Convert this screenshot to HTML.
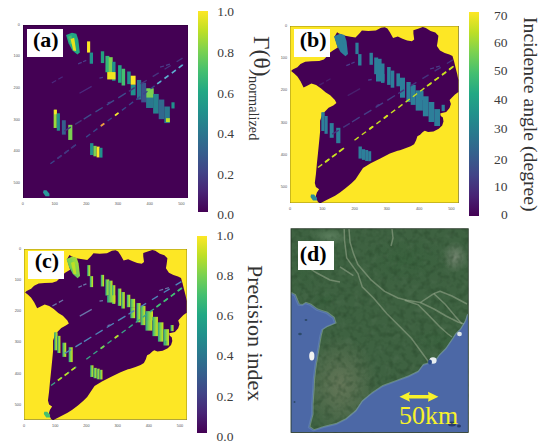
<!DOCTYPE html>
<html><head><meta charset="utf-8"><style>
html,body{margin:0;padding:0;background:#fff;width:550px;height:448px;overflow:hidden;position:relative}
div{position:absolute;white-space:nowrap}
.tk{font-family:"Liberation Sans",sans-serif;font-size:3.8px;color:#555;line-height:6px}
.cl{font-family:"Liberation Serif",serif;font-size:13.5px;color:#3c3c3c;line-height:1}
.bx{background:#fff}
.lb{font-family:"Liberation Serif",serif;font-weight:bold;font-size:22px;color:#000;line-height:1}
.vl{font-family:"Liberation Serif",serif;color:#333;writing-mode:vertical-rl;line-height:1}
</style></head><body>

<svg style="position:absolute;left:22.9px;top:24.8px" width="165.2" height="173.6" viewBox="290.0 26.0 168.7 177.0" preserveAspectRatio="none">
<rect x="290.0" y="26.0" width="168.7" height="177.0" fill="#440154"/>
<polygon points="334.0,36.3 340.0,33.8 344.5,35.0 346.5,41.0 348.0,54.0 345.5,56.2 340.5,52.0 336.5,44.5" fill="#22a884"/>
<polygon points="336.0,38.0 339.5,36.5 340.5,45.0 338.5,46.0" fill="#44bf70"/>
<polygon points="338.6,40.3 342.3,39.0 344.3,52.5 341.3,52.0" fill="#e6e41c"/>
<rect x="355.4" y="42.7" width="3.2" height="11.4" fill="#fde725"/>
<rect x="358.1" y="54.1" width="3.4" height="11.4" fill="#21918c"/>
<rect x="369.5" y="52.8" width="3.4" height="12.0" fill="#22a07f"/>
<rect x="374.2" y="57.5" width="4.0" height="16.7" fill="#35b779"/>
<rect x="377.5" y="58.8" width="4.1" height="20.8" fill="#7ad151"/>
<rect x="381" y="63.5" width="3.5" height="19.4" fill="#21918c"/>
<rect x="376" y="74" width="8.5" height="7.5" fill="#f0e41f"/>
<rect x="387.1" y="67" width="3.6" height="17.9" fill="#22a884"/>
<rect x="390.7" y="70.6" width="3.6" height="17.1" fill="#44bf70"/>
<rect x="396.4" y="73.4" width="3.6" height="12.9" fill="#21918c"/>
<rect x="400" y="77.7" width="5.0" height="9.3" fill="#fde725"/>
<rect x="400" y="87" width="5.0" height="10.7" fill="#21918c"/>
<rect x="406.4" y="82" width="4.3" height="20.0" fill="#2a788e"/>
<rect x="410.7" y="84.9" width="5.0" height="20.0" fill="#3b528b"/>
<rect x="415.7" y="90.6" width="7.2" height="20.0" fill="#2a788e"/>
<rect x="416" y="90.6" width="7.5" height="9.4" fill="#7ad151"/>
<rect x="422.9" y="96.3" width="5.7" height="20.0" fill="#26828e"/>
<rect x="428.6" y="102" width="5.7" height="20.0" fill="#31688e"/>
<rect x="434.3" y="109.1" width="5.7" height="16.9" fill="#2a788e"/>
<rect x="436" y="121" width="4.0" height="4.0" fill="#bddf26"/>
<rect x="441.6" y="104.8" width="3.2" height="6.3" fill="#21918c"/>
<rect x="321.3" y="112.4" width="3.2" height="18.6" fill="#9ad93c"/>
<rect x="321.8" y="112.4" width="2.7" height="4.6" fill="#fde725"/>
<rect x="324.5" y="116" width="3.2" height="17.8" fill="#21918c"/>
<rect x="329.7" y="123.1" width="4.0" height="14.7" fill="#355f8d"/>
<rect x="336.2" y="127.8" width="4.2" height="15.4" fill="#7ad151"/>
<rect x="358.5" y="146.5" width="3.4" height="12.1" fill="#21918c"/>
<rect x="361.9" y="149.2" width="3.3" height="10.7" fill="#7ad151"/>
<rect x="365.2" y="150" width="3.0" height="11.0" fill="#fde725"/>
<rect x="368.2" y="151.2" width="3.0" height="10.0" fill="#21918c"/>
<polygon points="311.0,194.6 314.0,194.6 317.0,198.0 317.0,200.5 313.0,200.5 310.5,197.0" fill="#2a9a9a"/>
<line x1="318.0" y1="167.5" x2="322.2" y2="164.4" stroke="#39468a" stroke-width="1.4"/>
<line x1="325.3" y1="162.1" x2="329.5" y2="158.9" stroke="#39468a" stroke-width="1.4"/>
<line x1="332.6" y1="156.6" x2="336.8" y2="153.5" stroke="#39468a" stroke-width="1.4"/>
<line x1="339.9" y1="151.2" x2="344.1" y2="148.0" stroke="#39468a" stroke-width="1.4"/>
<line x1="354.5" y1="140.3" x2="358.7" y2="137.1" stroke="#39468a" stroke-width="1.4"/>
<line x1="361.8" y1="134.8" x2="366.0" y2="131.7" stroke="#39468a" stroke-width="1.4"/>
<line x1="369.1" y1="129.4" x2="373.3" y2="126.2" stroke="#39468a" stroke-width="1.4"/>
<line x1="376.4" y1="123.9" x2="380.6" y2="120.8" stroke="#39468a" stroke-width="1.4"/>
<line x1="383.7" y1="118.5" x2="387.9" y2="115.3" stroke="#39468a" stroke-width="1.4"/>
<line x1="391.0" y1="113.0" x2="395.2" y2="109.9" stroke="#39468a" stroke-width="1.4"/>
<line x1="398.3" y1="107.6" x2="402.5" y2="104.4" stroke="#39468a" stroke-width="1.4"/>
<line x1="405.6" y1="102.1" x2="409.8" y2="99.0" stroke="#39468a" stroke-width="1.4"/>
<line x1="412.9" y1="96.7" x2="417.1" y2="93.5" stroke="#39468a" stroke-width="1.4"/>
<line x1="420.2" y1="91.2" x2="424.4" y2="88.1" stroke="#39468a" stroke-width="1.4"/>
<line x1="427.5" y1="85.8" x2="431.7" y2="82.6" stroke="#39468a" stroke-width="1.4"/>
<line x1="434.8" y1="80.3" x2="439.0" y2="77.2" stroke="#39468a" stroke-width="1.4"/>
<line x1="442.1" y1="74.9" x2="446.3" y2="71.7" stroke="#39468a" stroke-width="1.4"/>
<line x1="449.4" y1="69.4" x2="453.6" y2="66.3" stroke="#39468a" stroke-width="1.4"/>
<line x1="369.5" y1="129.1" x2="373.0" y2="126.5" stroke="#f39b3a" stroke-width="1.9"/>
<line x1="384.0" y1="118.2" x2="387.5" y2="115.6" stroke="#fde725" stroke-width="1.9"/>
<line x1="427.0" y1="86.1" x2="431.0" y2="83.2" stroke="#5fb0d0" stroke-width="1.7"/>
<line x1="434.5" y1="80.5" x2="438.5" y2="77.6" stroke="#5fb0d0" stroke-width="1.7"/>
<line x1="442.0" y1="75.0" x2="446.0" y2="72.0" stroke="#5fb0d0" stroke-width="1.7"/>
<line x1="449.0" y1="69.7" x2="453.0" y2="66.7" stroke="#5fb0d0" stroke-width="1.7"/>
<line x1="325.0" y1="162.3" x2="329.0" y2="159.3" stroke="#46337e" stroke-width="1.7"/>
<line x1="332.0" y1="157.1" x2="336.0" y2="154.1" stroke="#46337e" stroke-width="1.7"/>
<line x1="339.0" y1="151.8" x2="343.0" y2="148.8" stroke="#46337e" stroke-width="1.7"/>
<line x1="352.0" y1="122.0" x2="359.7" y2="117.2" stroke="#3e4a8a" stroke-width="1.4"/>
<line x1="364.0" y1="114.6" x2="371.4" y2="110.1" stroke="#3e4a8a" stroke-width="1.4"/>
<line x1="375.6" y1="107.4" x2="383.0" y2="102.9" stroke="#3e4a8a" stroke-width="1.4"/>
<line x1="387.3" y1="100.3" x2="395.0" y2="95.5" stroke="#3e4a8a" stroke-width="1.4"/>
<line x1="332.2" y1="134.2" x2="338.8" y2="130.1" stroke="#46337e" stroke-width="1.4"/>
<line x1="343.2" y1="127.4" x2="349.8" y2="123.3" stroke="#46337e" stroke-width="1.4"/>
<line x1="398.1" y1="93.6" x2="404.1" y2="89.9" stroke="#46337e" stroke-width="1.4"/>
<line x1="410.2" y1="86.1" x2="416.4" y2="82.3" stroke="#46337e" stroke-width="1.4"/>
<line x1="422.4" y1="78.6" x2="428.6" y2="74.8" stroke="#46337e" stroke-width="1.4"/>
<line x1="434.6" y1="71.1" x2="440.8" y2="67.3" stroke="#46337e" stroke-width="1.4"/>
<line x1="446.9" y1="63.5" x2="452.9" y2="59.8" stroke="#46337e" stroke-width="1.4"/>
<line x1="319.4" y1="85.1" x2="323.8" y2="82.6" stroke="#4a2a7e" stroke-width="1.3"/>
<line x1="326.1" y1="81.3" x2="330.5" y2="78.8" stroke="#4a2a7e" stroke-width="1.3"/>
<line x1="347.7" y1="95.6" x2="360.1" y2="88.6" stroke="#4a2a7e" stroke-width="1.3"/>
<line x1="346.3" y1="65.7" x2="350.0" y2="64.1" stroke="#4a3d8a" stroke-width="1.3"/>
<line x1="351.3" y1="63.5" x2="354.6" y2="62.1" stroke="#4a3d8a" stroke-width="1.3"/>
<line x1="430.0" y1="69.0" x2="434.0" y2="67.8" stroke="#4a3d8a" stroke-width="1.3"/>
<line x1="436.0" y1="67.2" x2="440.0" y2="66.0" stroke="#4a3d8a" stroke-width="1.3"/>
<line x1="368.1" y1="80.1" x2="371.7" y2="79.5" stroke="#4a3d8a" stroke-width="1.3"/>
<line x1="376.5" y1="105.5" x2="379.5" y2="104.5" stroke="#4a3d8a" stroke-width="1.3"/>
<rect x="290.0" y="26.0" width="168.7" height="177.0" fill="none" stroke="#000" stroke-opacity="0.5" stroke-width="0.8"/>
</svg>
<div class="tk" style="left:14.9px;top:201.4px;width:16px;text-align:center">0</div>
<div class="tk" style="left:46.6px;top:201.4px;width:16px;text-align:center">100</div>
<div class="tk" style="left:78.3px;top:201.4px;width:16px;text-align:center">200</div>
<div class="tk" style="left:110.0px;top:201.4px;width:16px;text-align:center">300</div>
<div class="tk" style="left:141.7px;top:201.4px;width:16px;text-align:center">400</div>
<div class="tk" style="left:173.4px;top:201.4px;width:16px;text-align:center">500</div>
<div class="tk" style="left:3.9px;top:21.8px;width:16px;text-align:right">0</div>
<div class="tk" style="left:3.9px;top:53.4px;width:16px;text-align:right">100</div>
<div class="tk" style="left:3.9px;top:84.9px;width:16px;text-align:right">200</div>
<div class="tk" style="left:3.9px;top:116.5px;width:16px;text-align:right">300</div>
<div class="tk" style="left:3.9px;top:148.0px;width:16px;text-align:right">400</div>
<div class="tk" style="left:3.9px;top:179.6px;width:16px;text-align:right">500</div>
<div class="bx" style="left:26.7px;top:28.9px;width:36.2px;height:28.6px"></div><div class="lb" style="left:33.0px;top:28.8px">(a)</div>
<div style="left:198.2px;top:11px;width:9.8px;height:201.4px;background:linear-gradient(to bottom,#fde725 0%,#bddf26 10%,#7ad151 20%,#44bf70 30%,#22a884 40%,#21918c 50%,#2a788e 60%,#355f8d 70%,#414487 80%,#482475 90%,#440154 100%)"></div>
<div class="cl" style="left:217.2px;top:5.4px">1.0</div>
<div class="cl" style="left:217.2px;top:45.9px">0.8</div>
<div class="cl" style="left:217.2px;top:86.5px">0.6</div>
<div class="cl" style="left:217.2px;top:127.0px">0.4</div>
<div class="cl" style="left:217.2px;top:167.6px">0.2</div>
<div class="cl" style="left:217.2px;top:208.1px">0.0</div>
<div class="vl" style="left:249.0px;top:36.4px;font-size:23.5px">Γ(θ)</div>
<div class="vl" style="left:247.1px;top:76.0px;font-size:14.3px">normalized</div>
<svg style="position:absolute;left:290.0px;top:26.0px" width="168.7" height="177.0" viewBox="290.0 26.0 168.7 177.0" preserveAspectRatio="none">
<rect x="290.0" y="26.0" width="168.7" height="177.0" fill="#fde725"/>
<polygon points="334.5,36.7 337.1,32.3 339.0,33.5 344.1,35.5 350.5,36.7 355.5,37.4 359.4,33.5 361.9,30.4 368.3,31.0 375.9,30.4 381.0,27.8 384.8,27.2 387.4,28.5 389.9,32.3 393.1,38.0 397.8,36.5 402.5,38.8 407.2,40.4 411.9,41.2 414.2,39.6 413.4,33.4 413.4,30.2 418.1,28.7 422.8,27.1 425.9,27.9 430.6,31.0 435.3,32.6 438.4,35.7 437.7,41.2 436.9,45.9 440.0,50.6 444.7,52.9 449.4,54.5 452.5,56.0 454.1,61.5 455.6,67.8 457.2,74.0 458.4,80.0 458.4,92.0 455.0,94.5 452.0,97.5 449.6,100.0 450.9,104.0 449.6,108.0 446.2,112.0 442.9,112.7 440.2,113.4 440.8,116.0 442.9,117.4 443.5,121.4 442.2,125.4 438.8,128.8 433.5,131.5 428.1,132.1 424.8,130.8 422.8,132.1 420.1,134.8 417.4,136.2 416.1,140.2 414.1,144.2 410.7,146.2 405.4,148.2 400.0,150.2 397.6,150.7 389.9,153.6 380.3,158.4 370.7,163.2 363.0,168.0 359.2,173.7 355.4,179.5 351.5,183.3 345.8,188.1 340.0,192.5 335.1,195.7 326.6,200.0 320.1,203.4 318.0,202.1 316.5,199.0 315.9,195.7 316.9,192.5 319.1,189.3 315.9,187.1 314.8,182.9 315.9,174.3 316.9,163.6 318.0,152.9 319.1,142.1 320.1,131.4 320.1,120.7 322.3,114.3 325.5,110.9 328.6,107.8 333.3,105.4 336.4,103.1 334.9,100.0 330.2,95.3 325.5,92.2 320.8,88.3 316.1,85.1 311.4,83.6 306.7,85.9 303.6,87.5 300.5,81.2 297.4,76.5 294.2,73.4 291.1,71.1 292.7,69.5 297.4,67.2 300.5,64.1 305.2,61.7 311.4,61.2 319.2,60.9 323.9,59.4 327.0,56.2 330.1,52.6 332.6,50.7 337.7,47.5 336.5,43.0" fill="#440154"/>
<polygon points="334.0,36.3 340.0,33.8 344.5,35.0 346.5,41.0 348.0,54.0 345.5,56.2 340.5,52.0 336.5,44.5" fill="#2d7f9a"/>
<polygon points="336.0,38.0 339.5,36.5 340.5,45.0 338.5,46.0" fill="#2d7f9a"/>
<polygon points="338.6,40.3 342.3,39.0 344.3,52.5 341.3,52.0" fill="#2d7f9a"/>
<rect x="355.4" y="42.7" width="3.2" height="11.4" fill="#2d7f9a"/>
<rect x="358.1" y="54.1" width="3.4" height="11.4" fill="#2d7f9a"/>
<rect x="369.5" y="52.8" width="3.4" height="12.0" fill="#2d7f9a"/>
<rect x="374.2" y="57.5" width="4.0" height="16.7" fill="#2d7f9a"/>
<rect x="377.5" y="58.8" width="4.1" height="20.8" fill="#2d7f9a"/>
<rect x="381" y="63.5" width="3.5" height="19.4" fill="#2d7f9a"/>
<rect x="376" y="74" width="8.5" height="7.5" fill="#2d7f9a"/>
<rect x="387.1" y="67" width="3.6" height="17.9" fill="#2d7f9a"/>
<rect x="390.7" y="70.6" width="3.6" height="17.1" fill="#2d7f9a"/>
<rect x="396.4" y="73.4" width="3.6" height="12.9" fill="#2d7f9a"/>
<rect x="400" y="77.7" width="5.0" height="9.3" fill="#2d7f9a"/>
<rect x="400" y="87" width="5.0" height="10.7" fill="#2d7f9a"/>
<rect x="406.4" y="82" width="4.3" height="20.0" fill="#2d7f9a"/>
<rect x="410.7" y="84.9" width="5.0" height="20.0" fill="#2d7f9a"/>
<rect x="415.7" y="90.6" width="7.2" height="20.0" fill="#2d7f9a"/>
<rect x="416" y="90.6" width="7.5" height="9.4" fill="#2d7f9a"/>
<rect x="422.9" y="96.3" width="5.7" height="20.0" fill="#2d7f9a"/>
<rect x="428.6" y="102" width="5.7" height="20.0" fill="#2d7f9a"/>
<rect x="434.3" y="109.1" width="5.7" height="16.9" fill="#2d7f9a"/>
<rect x="436" y="121" width="4.0" height="4.0" fill="#2d7f9a"/>
<rect x="441.6" y="104.8" width="3.2" height="6.3" fill="#2d7f9a"/>
<rect x="321.3" y="112.4" width="3.2" height="18.6" fill="#2d7f9a"/>
<rect x="321.8" y="112.4" width="2.7" height="4.6" fill="#2d7f9a"/>
<rect x="324.5" y="116" width="3.2" height="17.8" fill="#2d7f9a"/>
<rect x="329.7" y="123.1" width="4.0" height="14.7" fill="#2d7f9a"/>
<rect x="336.2" y="127.8" width="4.2" height="15.4" fill="#2d7f9a"/>
<rect x="358.5" y="146.5" width="3.4" height="12.1" fill="#2d7f9a"/>
<rect x="361.9" y="149.2" width="3.3" height="10.7" fill="#2d7f9a"/>
<rect x="365.2" y="150" width="3.0" height="11.0" fill="#2d7f9a"/>
<rect x="368.2" y="151.2" width="3.0" height="10.0" fill="#2d7f9a"/>
<polygon points="311.0,194.6 314.0,194.6 317.0,198.0 317.0,200.5 313.0,200.5 310.5,197.0" fill="#2c8a9a"/>
<line x1="318.0" y1="167.5" x2="322.2" y2="164.4" stroke="#c9e021" stroke-width="1.4"/>
<line x1="325.3" y1="162.1" x2="329.5" y2="158.9" stroke="#c9e021" stroke-width="1.4"/>
<line x1="332.6" y1="156.6" x2="336.8" y2="153.5" stroke="#c9e021" stroke-width="1.4"/>
<line x1="339.9" y1="151.2" x2="344.1" y2="148.0" stroke="#c9e021" stroke-width="1.4"/>
<line x1="354.5" y1="140.3" x2="358.7" y2="137.1" stroke="#c9e021" stroke-width="1.4"/>
<line x1="361.8" y1="134.8" x2="366.0" y2="131.7" stroke="#c9e021" stroke-width="1.4"/>
<line x1="369.1" y1="129.4" x2="373.3" y2="126.2" stroke="#c9e021" stroke-width="1.4"/>
<line x1="376.4" y1="123.9" x2="380.6" y2="120.8" stroke="#c9e021" stroke-width="1.4"/>
<line x1="383.7" y1="118.5" x2="387.9" y2="115.3" stroke="#c9e021" stroke-width="1.4"/>
<line x1="391.0" y1="113.0" x2="395.2" y2="109.9" stroke="#c9e021" stroke-width="1.4"/>
<line x1="398.3" y1="107.6" x2="402.5" y2="104.4" stroke="#c9e021" stroke-width="1.4"/>
<line x1="405.6" y1="102.1" x2="409.8" y2="99.0" stroke="#c9e021" stroke-width="1.4"/>
<line x1="412.9" y1="96.7" x2="417.1" y2="93.5" stroke="#c9e021" stroke-width="1.4"/>
<line x1="420.2" y1="91.2" x2="424.4" y2="88.1" stroke="#c9e021" stroke-width="1.4"/>
<line x1="427.5" y1="85.8" x2="431.7" y2="82.6" stroke="#c9e021" stroke-width="1.4"/>
<line x1="434.8" y1="80.3" x2="439.0" y2="77.2" stroke="#c9e021" stroke-width="1.4"/>
<line x1="442.1" y1="74.9" x2="446.3" y2="71.7" stroke="#c9e021" stroke-width="1.4"/>
<line x1="449.4" y1="69.4" x2="453.6" y2="66.3" stroke="#c9e021" stroke-width="1.4"/>
<line x1="369.5" y1="129.1" x2="373.0" y2="126.5" stroke="#d5e21f" stroke-width="1.9"/>
<line x1="384.0" y1="118.2" x2="387.5" y2="115.6" stroke="#d5e21f" stroke-width="1.9"/>
<line x1="427.0" y1="86.1" x2="431.0" y2="83.2" stroke="#c9e021" stroke-width="1.7"/>
<line x1="434.5" y1="80.5" x2="438.5" y2="77.6" stroke="#c9e021" stroke-width="1.7"/>
<line x1="442.0" y1="75.0" x2="446.0" y2="72.0" stroke="#c9e021" stroke-width="1.7"/>
<line x1="449.0" y1="69.7" x2="453.0" y2="66.7" stroke="#c9e021" stroke-width="1.7"/>
<line x1="325.0" y1="162.3" x2="329.0" y2="159.3" stroke="#c9e021" stroke-width="1.7"/>
<line x1="332.0" y1="157.1" x2="336.0" y2="154.1" stroke="#c9e021" stroke-width="1.7"/>
<line x1="339.0" y1="151.8" x2="343.0" y2="148.8" stroke="#c9e021" stroke-width="1.7"/>
<line x1="352.0" y1="122.0" x2="359.7" y2="117.2" stroke="#463d86" stroke-width="1.4"/>
<line x1="364.0" y1="114.6" x2="371.4" y2="110.1" stroke="#463d86" stroke-width="1.4"/>
<line x1="375.6" y1="107.4" x2="383.0" y2="102.9" stroke="#463d86" stroke-width="1.4"/>
<line x1="387.3" y1="100.3" x2="395.0" y2="95.5" stroke="#463d86" stroke-width="1.4"/>
<line x1="332.2" y1="134.2" x2="338.8" y2="130.1" stroke="#46337e" stroke-width="1.4"/>
<line x1="343.2" y1="127.4" x2="349.8" y2="123.3" stroke="#46337e" stroke-width="1.4"/>
<line x1="398.1" y1="93.6" x2="404.1" y2="89.9" stroke="#46337e" stroke-width="1.4"/>
<line x1="410.2" y1="86.1" x2="416.4" y2="82.3" stroke="#46337e" stroke-width="1.4"/>
<line x1="422.4" y1="78.6" x2="428.6" y2="74.8" stroke="#46337e" stroke-width="1.4"/>
<line x1="434.6" y1="71.1" x2="440.8" y2="67.3" stroke="#46337e" stroke-width="1.4"/>
<line x1="446.9" y1="63.5" x2="452.9" y2="59.8" stroke="#46337e" stroke-width="1.4"/>
<line x1="319.4" y1="85.1" x2="323.8" y2="82.6" stroke="#48206e" stroke-width="1.3"/>
<line x1="326.1" y1="81.3" x2="330.5" y2="78.8" stroke="#48206e" stroke-width="1.3"/>
<line x1="347.7" y1="95.6" x2="360.1" y2="88.6" stroke="#48206e" stroke-width="1.3"/>
<line x1="346.3" y1="65.7" x2="350.0" y2="64.1" stroke="#4a3d8a" stroke-width="1.3"/>
<line x1="351.3" y1="63.5" x2="354.6" y2="62.1" stroke="#4a3d8a" stroke-width="1.3"/>
<line x1="430.0" y1="69.0" x2="434.0" y2="67.8" stroke="#4a3d8a" stroke-width="1.3"/>
<line x1="436.0" y1="67.2" x2="440.0" y2="66.0" stroke="#4a3d8a" stroke-width="1.3"/>
<line x1="368.1" y1="80.1" x2="371.7" y2="79.5" stroke="#4a3d8a" stroke-width="1.3"/>
<line x1="376.5" y1="105.5" x2="379.5" y2="104.5" stroke="#4a3d8a" stroke-width="1.3"/>
<rect x="290.0" y="26.0" width="168.7" height="177.0" fill="none" stroke="#000" stroke-opacity="0.5" stroke-width="0.8"/>
</svg>
<div class="tk" style="left:282.0px;top:206.0px;width:16px;text-align:center">0</div>
<div class="tk" style="left:314.3px;top:206.0px;width:16px;text-align:center">100</div>
<div class="tk" style="left:346.6px;top:206.0px;width:16px;text-align:center">200</div>
<div class="tk" style="left:378.8px;top:206.0px;width:16px;text-align:center">300</div>
<div class="tk" style="left:411.1px;top:206.0px;width:16px;text-align:center">400</div>
<div class="tk" style="left:443.4px;top:206.0px;width:16px;text-align:center">500</div>
<div class="tk" style="left:271.0px;top:23.0px;width:16px;text-align:right">0</div>
<div class="tk" style="left:271.0px;top:55.2px;width:16px;text-align:right">100</div>
<div class="tk" style="left:271.0px;top:87.4px;width:16px;text-align:right">200</div>
<div class="tk" style="left:271.0px;top:119.6px;width:16px;text-align:right">300</div>
<div class="tk" style="left:271.0px;top:151.8px;width:16px;text-align:right">400</div>
<div class="tk" style="left:271.0px;top:184.0px;width:16px;text-align:right">500</div>
<div class="bx" style="left:293.9px;top:29.3px;width:35.7px;height:28.1px"></div><div class="lb" style="left:299.8px;top:29.1px">(b)</div>
<div style="left:468.9px;top:12.4px;width:10.4px;height:204.1px;background:linear-gradient(to bottom,#fde725 0%,#bddf26 10%,#7ad151 20%,#44bf70 30%,#22a884 40%,#21918c 50%,#2a788e 60%,#355f8d 70%,#414487 80%,#482475 90%,#440154 100%)"></div>
<div class="cl" style="left:494.0px;top:8.6px">70</div>
<div class="cl" style="left:494.0px;top:35.6px">60</div>
<div class="cl" style="left:494.0px;top:64.1px">50</div>
<div class="cl" style="left:494.0px;top:93.1px">40</div>
<div class="cl" style="left:494.0px;top:122.1px">30</div>
<div class="cl" style="left:494.0px;top:152.6px">20</div>
<div class="cl" style="left:494.0px;top:180.4px">10</div>
<div class="cl" style="left:501.0px;top:208.1px">0</div>
<div class="vl" style="left:520.1px;top:16.7px;font-size:19.7px">Incidence angle (degree)</div>
<svg style="position:absolute;left:24.0px;top:249.2px" width="163.0" height="170.8" viewBox="290.0 26.0 168.7 177.0" preserveAspectRatio="none">
<defs><linearGradient id="gc" x1="0" y1="0" x2="1" y2="0"><stop offset="0" stop-color="#2a9d8a"/><stop offset="0.45" stop-color="#7ad151"/><stop offset="1" stop-color="#d4e21a"/></linearGradient><linearGradient id="gc2" x1="0" y1="1" x2="1" y2="0"><stop offset="0" stop-color="#21918c"/><stop offset="0.5" stop-color="#7ad151"/><stop offset="1" stop-color="#bddf26"/></linearGradient></defs>
<rect x="290.0" y="26.0" width="168.7" height="177.0" fill="#fde725"/>
<polygon points="334.5,36.7 337.1,32.3 339.0,33.5 344.1,35.5 350.5,36.7 355.5,37.4 359.4,33.5 361.9,30.4 368.3,31.0 375.9,30.4 381.0,27.8 384.8,27.2 387.4,28.5 389.9,32.3 393.1,38.0 397.8,36.5 402.5,38.8 407.2,40.4 411.9,41.2 414.2,39.6 413.4,33.4 413.4,30.2 418.1,28.7 422.8,27.1 425.9,27.9 430.6,31.0 435.3,32.6 438.4,35.7 437.7,41.2 436.9,45.9 440.0,50.6 444.7,52.9 449.4,54.5 452.5,56.0 454.1,61.5 455.6,67.8 457.2,74.0 458.4,80.0 458.4,92.0 455.0,94.5 452.0,97.5 449.6,100.0 450.9,104.0 449.6,108.0 446.2,112.0 442.9,112.7 440.2,113.4 440.8,116.0 442.9,117.4 443.5,121.4 442.2,125.4 438.8,128.8 433.5,131.5 428.1,132.1 424.8,130.8 422.8,132.1 420.1,134.8 417.4,136.2 416.1,140.2 414.1,144.2 410.7,146.2 405.4,148.2 400.0,150.2 397.6,150.7 389.9,153.6 380.3,158.4 370.7,163.2 363.0,168.0 359.2,173.7 355.4,179.5 351.5,183.3 345.8,188.1 340.0,192.5 335.1,195.7 326.6,200.0 320.1,203.4 318.0,202.1 316.5,199.0 315.9,195.7 316.9,192.5 319.1,189.3 315.9,187.1 314.8,182.9 315.9,174.3 316.9,163.6 318.0,152.9 319.1,142.1 320.1,131.4 320.1,120.7 322.3,114.3 325.5,110.9 328.6,107.8 333.3,105.4 336.4,103.1 334.9,100.0 330.2,95.3 325.5,92.2 320.8,88.3 316.1,85.1 311.4,83.6 306.7,85.9 303.6,87.5 300.5,81.2 297.4,76.5 294.2,73.4 291.1,71.1 292.7,69.5 297.4,67.2 300.5,64.1 305.2,61.7 311.4,61.2 319.2,60.9 323.9,59.4 327.0,56.2 330.1,52.6 332.6,50.7 337.7,47.5 336.5,43.0" fill="#440154"/>
<polygon points="334.0,36.3 340.0,33.8 344.5,35.0 346.5,41.0 348.0,54.0 345.5,56.2 340.5,52.0 336.5,44.5" fill="url(#gc2)"/>
<polygon points="336.0,38.0 339.5,36.5 340.5,45.0 338.5,46.0" fill="#7ad151"/>
<polygon points="338.6,40.3 342.3,39.0 344.3,52.5 341.3,52.0" fill="#bddf26"/>
<rect x="355.4" y="42.7" width="3.2" height="11.4" fill="url(#gc)"/>
<rect x="358.1" y="54.1" width="3.4" height="11.4" fill="url(#gc)"/>
<rect x="369.5" y="52.8" width="3.4" height="12.0" fill="url(#gc)"/>
<rect x="374.2" y="57.5" width="4.0" height="16.7" fill="url(#gc)"/>
<rect x="377.5" y="58.8" width="4.1" height="20.8" fill="url(#gc)"/>
<rect x="381" y="63.5" width="3.5" height="19.4" fill="url(#gc)"/>
<rect x="376" y="74" width="8.5" height="7.5" fill="url(#gc)"/>
<rect x="387.1" y="67" width="3.6" height="17.9" fill="url(#gc)"/>
<rect x="390.7" y="70.6" width="3.6" height="17.1" fill="url(#gc)"/>
<rect x="396.4" y="73.4" width="3.6" height="12.9" fill="url(#gc)"/>
<rect x="400" y="77.7" width="5.0" height="9.3" fill="url(#gc)"/>
<rect x="400" y="87" width="5.0" height="10.7" fill="url(#gc)"/>
<rect x="406.4" y="82" width="4.3" height="20.0" fill="url(#gc)"/>
<rect x="410.7" y="84.9" width="5.0" height="20.0" fill="url(#gc)"/>
<rect x="415.7" y="90.6" width="7.2" height="20.0" fill="url(#gc)"/>
<rect x="416" y="90.6" width="7.5" height="9.4" fill="url(#gc)"/>
<rect x="422.9" y="96.3" width="5.7" height="20.0" fill="url(#gc)"/>
<rect x="428.6" y="102" width="5.7" height="20.0" fill="url(#gc)"/>
<rect x="434.3" y="109.1" width="5.7" height="16.9" fill="url(#gc)"/>
<rect x="436" y="121" width="4.0" height="4.0" fill="url(#gc)"/>
<rect x="441.6" y="104.8" width="3.2" height="6.3" fill="url(#gc)"/>
<rect x="321.3" y="112.4" width="3.2" height="18.6" fill="url(#gc)"/>
<rect x="321.8" y="112.4" width="2.7" height="4.6" fill="url(#gc)"/>
<rect x="324.5" y="116" width="3.2" height="17.8" fill="url(#gc)"/>
<rect x="329.7" y="123.1" width="4.0" height="14.7" fill="url(#gc)"/>
<rect x="336.2" y="127.8" width="4.2" height="15.4" fill="url(#gc)"/>
<rect x="358.5" y="146.5" width="3.4" height="12.1" fill="url(#gc)"/>
<rect x="361.9" y="149.2" width="3.3" height="10.7" fill="url(#gc)"/>
<rect x="365.2" y="150" width="3.0" height="11.0" fill="url(#gc)"/>
<rect x="368.2" y="151.2" width="3.0" height="10.0" fill="url(#gc)"/>
<polygon points="311.0,194.6 314.0,194.6 317.0,198.0 317.0,200.5 313.0,200.5 310.5,197.0" fill="#44bf70"/>
<line x1="318.0" y1="167.5" x2="322.2" y2="164.4" stroke="#3aa587" stroke-width="1.4"/>
<line x1="325.3" y1="162.1" x2="329.5" y2="158.9" stroke="#3aa587" stroke-width="1.4"/>
<line x1="332.6" y1="156.6" x2="336.8" y2="153.5" stroke="#3aa587" stroke-width="1.4"/>
<line x1="339.9" y1="151.2" x2="344.1" y2="148.0" stroke="#3aa587" stroke-width="1.4"/>
<line x1="354.5" y1="140.3" x2="358.7" y2="137.1" stroke="#3aa587" stroke-width="1.4"/>
<line x1="361.8" y1="134.8" x2="366.0" y2="131.7" stroke="#3aa587" stroke-width="1.4"/>
<line x1="369.1" y1="129.4" x2="373.3" y2="126.2" stroke="#3aa587" stroke-width="1.4"/>
<line x1="376.4" y1="123.9" x2="380.6" y2="120.8" stroke="#3aa587" stroke-width="1.4"/>
<line x1="383.7" y1="118.5" x2="387.9" y2="115.3" stroke="#3aa587" stroke-width="1.4"/>
<line x1="391.0" y1="113.0" x2="395.2" y2="109.9" stroke="#3aa587" stroke-width="1.4"/>
<line x1="398.3" y1="107.6" x2="402.5" y2="104.4" stroke="#3aa587" stroke-width="1.4"/>
<line x1="405.6" y1="102.1" x2="409.8" y2="99.0" stroke="#3aa587" stroke-width="1.4"/>
<line x1="412.9" y1="96.7" x2="417.1" y2="93.5" stroke="#3aa587" stroke-width="1.4"/>
<line x1="420.2" y1="91.2" x2="424.4" y2="88.1" stroke="#3aa587" stroke-width="1.4"/>
<line x1="427.5" y1="85.8" x2="431.7" y2="82.6" stroke="#3aa587" stroke-width="1.4"/>
<line x1="434.8" y1="80.3" x2="439.0" y2="77.2" stroke="#3aa587" stroke-width="1.4"/>
<line x1="442.1" y1="74.9" x2="446.3" y2="71.7" stroke="#3aa587" stroke-width="1.4"/>
<line x1="449.4" y1="69.4" x2="453.6" y2="66.3" stroke="#3aa587" stroke-width="1.4"/>
<line x1="369.5" y1="129.1" x2="373.0" y2="126.5" stroke="#7ad151" stroke-width="1.9"/>
<line x1="384.0" y1="118.2" x2="387.5" y2="115.6" stroke="#bddf26" stroke-width="1.9"/>
<line x1="427.0" y1="86.1" x2="431.0" y2="83.2" stroke="#44bf70" stroke-width="1.7"/>
<line x1="434.5" y1="80.5" x2="438.5" y2="77.6" stroke="#44bf70" stroke-width="1.7"/>
<line x1="442.0" y1="75.0" x2="446.0" y2="72.0" stroke="#44bf70" stroke-width="1.7"/>
<line x1="449.0" y1="69.7" x2="453.0" y2="66.7" stroke="#44bf70" stroke-width="1.7"/>
<line x1="325.0" y1="162.3" x2="329.0" y2="159.3" stroke="#bddf26" stroke-width="1.7"/>
<line x1="332.0" y1="157.1" x2="336.0" y2="154.1" stroke="#bddf26" stroke-width="1.7"/>
<line x1="339.0" y1="151.8" x2="343.0" y2="148.8" stroke="#bddf26" stroke-width="1.7"/>
<line x1="352.0" y1="122.0" x2="359.7" y2="117.2" stroke="#4f86b8" stroke-width="1.4"/>
<line x1="364.0" y1="114.6" x2="371.4" y2="110.1" stroke="#4f86b8" stroke-width="1.4"/>
<line x1="375.6" y1="107.4" x2="383.0" y2="102.9" stroke="#4f86b8" stroke-width="1.4"/>
<line x1="387.3" y1="100.3" x2="395.0" y2="95.5" stroke="#4f86b8" stroke-width="1.4"/>
<line x1="332.2" y1="134.2" x2="338.8" y2="130.1" stroke="#4f86b8" stroke-width="1.4"/>
<line x1="343.2" y1="127.4" x2="349.8" y2="123.3" stroke="#4f86b8" stroke-width="1.4"/>
<line x1="398.1" y1="93.6" x2="404.1" y2="89.9" stroke="#4f86b8" stroke-width="1.4"/>
<line x1="410.2" y1="86.1" x2="416.4" y2="82.3" stroke="#4f86b8" stroke-width="1.4"/>
<line x1="422.4" y1="78.6" x2="428.6" y2="74.8" stroke="#4f86b8" stroke-width="1.4"/>
<line x1="434.6" y1="71.1" x2="440.8" y2="67.3" stroke="#4f86b8" stroke-width="1.4"/>
<line x1="446.9" y1="63.5" x2="452.9" y2="59.8" stroke="#4f86b8" stroke-width="1.4"/>
<line x1="319.4" y1="85.1" x2="323.8" y2="82.6" stroke="#6a74a8" stroke-width="1.3"/>
<line x1="326.1" y1="81.3" x2="330.5" y2="78.8" stroke="#6a74a8" stroke-width="1.3"/>
<line x1="347.7" y1="95.6" x2="360.1" y2="88.6" stroke="#6a74a8" stroke-width="1.3"/>
<line x1="346.3" y1="65.7" x2="350.0" y2="64.1" stroke="#6a74a8" stroke-width="1.3"/>
<line x1="351.3" y1="63.5" x2="354.6" y2="62.1" stroke="#6a74a8" stroke-width="1.3"/>
<line x1="430.0" y1="69.0" x2="434.0" y2="67.8" stroke="#6a74a8" stroke-width="1.3"/>
<line x1="436.0" y1="67.2" x2="440.0" y2="66.0" stroke="#6a74a8" stroke-width="1.3"/>
<line x1="368.1" y1="80.1" x2="371.7" y2="79.5" stroke="#6a74a8" stroke-width="1.3"/>
<line x1="376.5" y1="105.5" x2="379.5" y2="104.5" stroke="#6a74a8" stroke-width="1.3"/>
<rect x="290.0" y="26.0" width="168.7" height="177.0" fill="none" stroke="#000" stroke-opacity="0.5" stroke-width="0.8"/>
</svg>
<div class="tk" style="left:16.0px;top:423.0px;width:16px;text-align:center">0</div>
<div class="tk" style="left:47.2px;top:423.0px;width:16px;text-align:center">100</div>
<div class="tk" style="left:78.4px;top:423.0px;width:16px;text-align:center">200</div>
<div class="tk" style="left:109.6px;top:423.0px;width:16px;text-align:center">300</div>
<div class="tk" style="left:140.8px;top:423.0px;width:16px;text-align:center">400</div>
<div class="tk" style="left:172.0px;top:423.0px;width:16px;text-align:center">500</div>
<div class="tk" style="left:5.0px;top:246.2px;width:16px;text-align:right">0</div>
<div class="tk" style="left:5.0px;top:277.3px;width:16px;text-align:right">100</div>
<div class="tk" style="left:5.0px;top:308.4px;width:16px;text-align:right">200</div>
<div class="tk" style="left:5.0px;top:339.4px;width:16px;text-align:right">300</div>
<div class="tk" style="left:5.0px;top:370.5px;width:16px;text-align:right">400</div>
<div class="tk" style="left:5.0px;top:401.6px;width:16px;text-align:right">500</div>
<div class="bx" style="left:27.9px;top:250.5px;width:36.1px;height:28.5px"></div><div class="lb" style="left:34.7px;top:250.1px">(c)</div>
<div style="left:196.9px;top:235.8px;width:9.9px;height:197.2px;background:linear-gradient(to bottom,#fde725 0%,#bddf26 10%,#7ad151 20%,#44bf70 30%,#22a884 40%,#21918c 50%,#2a788e 60%,#355f8d 70%,#414487 80%,#482475 90%,#440154 100%)"></div>
<div class="cl" style="left:216.5px;top:228.9px">1.0</div>
<div class="cl" style="left:216.5px;top:269.0px">0.8</div>
<div class="cl" style="left:216.5px;top:309.2px">0.6</div>
<div class="cl" style="left:216.5px;top:349.3px">0.4</div>
<div class="cl" style="left:216.5px;top:389.5px">0.2</div>
<div class="cl" style="left:216.5px;top:429.6px">0.0</div>
<div class="vl" style="left:244.2px;top:265.2px;font-size:22px">Precision index</div>
<svg style="position:absolute;left:0;top:0" width="550" height="448" viewBox="0 0 550 448">
<defs><clipPath id="dclip"><rect x="291" y="228.7" width="177.3" height="203.7"/></clipPath><radialGradient id="rg1"><stop offset="0" stop-color="#6b7a5c" stop-opacity="0.85"/><stop offset="1" stop-color="#6b7a5c" stop-opacity="0"/></radialGradient><radialGradient id="rg2"><stop offset="0" stop-color="#8a9484" stop-opacity="0.7"/><stop offset="1" stop-color="#8a9484" stop-opacity="0"/></radialGradient><radialGradient id="rg3"><stop offset="0" stop-color="#35603a" stop-opacity="0.6"/><stop offset="1" stop-color="#35603a" stop-opacity="0"/></radialGradient><radialGradient id="rg4"><stop offset="0" stop-color="#6f9070" stop-opacity="0.6"/><stop offset="1" stop-color="#6f9070" stop-opacity="0"/></radialGradient><filter id="noise" x="0" y="0" width="100%" height="100%" color-interpolation-filters="sRGB"><feTurbulence type="fractalNoise" baseFrequency="0.16" numOctaves="2" seed="3"/><feColorMatrix type="matrix" values="0 0 0 0 0.14  0 0 0 0 0.26  0 0 0 0 0.15  0 0 0 2.4 -1.1"/></filter><filter id="noise2" x="0" y="0" width="100%" height="100%" color-interpolation-filters="sRGB"><feTurbulence type="fractalNoise" baseFrequency="0.13" numOctaves="2" seed="11"/><feColorMatrix type="matrix" values="0 0 0 0 0.42  0 0 0 0 0.52  0 0 0 0 0.42  0 0 0 2.4 -1.2"/></filter></defs>
<g clip-path="url(#dclip)">
<rect x="291" y="228.7" width="177.3" height="203.7" fill="#3e6241"/>
<ellipse cx="340" cy="385" rx="38" ry="50" fill="url(#rg1)"/>
<ellipse cx="455" cy="257" rx="13" ry="16" fill="url(#rg2)"/>
<ellipse cx="405" cy="260" rx="45" ry="25" fill="url(#rg3)"/>
<ellipse cx="305" cy="265" rx="16" ry="30" fill="url(#rg3)"/>
<ellipse cx="325" cy="300" rx="14" ry="10" fill="url(#rg3)"/>
<ellipse cx="440" cy="340" rx="30" ry="12" fill="url(#rg3)"/>
<ellipse cx="330" cy="236" rx="20" ry="9" fill="url(#rg4)"/>
<rect x="291" y="228.7" width="177.3" height="203.7" filter="url(#noise)" opacity="0.45"/>
<rect x="291" y="228.7" width="177.3" height="203.7" filter="url(#noise2)" opacity="0.2"/>
<polyline points="344.2,229.0 344.5,240.0 346.7,257.9 357.9,273.5 362.3,286.9 373.5,298.0 386.9,313.7 398.0,324.8 411.4,338.2 420.0,350.0 428.5,361.8" fill="none" stroke="#9aab90" stroke-width="1.5" opacity="0.55" stroke-linejoin="round"/>
<polyline points="349.0,229.0 350.0,242.0 353.4,253.4 357.9,264.6 371.3,280.2 384.6,291.3 398.0,298.0 407.0,300.3 420.4,302.5 433.8,293.6 440.0,291.3 452.0,296.0 467.0,304.0" fill="none" stroke="#9aab90" stroke-width="1.5" opacity="0.55" stroke-linejoin="round"/>
<polyline points="404.7,300.3 418.1,304.7 429.3,315.9 440.0,327.0 448.0,334.0 452.0,337.0" fill="none" stroke="#9aab90" stroke-width="1.5" opacity="0.55" stroke-linejoin="round"/>
<polyline points="420.4,302.5 434.0,309.0 446.0,316.0 458.0,322.0 467.0,325.0" fill="none" stroke="#9aab90" stroke-width="1.5" opacity="0.55" stroke-linejoin="round"/>
<polyline points="340.0,266.8 353.4,275.7" fill="none" stroke="#9aab90" stroke-width="1.5" opacity="0.55" stroke-linejoin="round"/>
<polyline points="433.8,293.6 445.0,304.0 455.0,316.0 462.0,324.0" fill="none" stroke="#9aab90" stroke-width="1.5" opacity="0.55" stroke-linejoin="round"/>
<polyline points="392.0,229.0 393.0,238.0 391.0,246.0" fill="none" stroke="#9aab90" stroke-width="1.5" opacity="0.55" stroke-linejoin="round"/>
<polyline points="300.0,262.0 315.0,272.0 330.0,280.0 340.0,282.0" fill="none" stroke="#9aab90" stroke-width="1.5" opacity="0.55" stroke-linejoin="round"/>
<polyline points="291.0,293.0 295.0,295.0 297.0,300.0 299.0,304.5 303.0,305.0 306.0,303.0 310.8,304.7 317.4,309.6 327.2,312.8 333.7,317.7 335.3,322.6 327.2,325.9 322.3,329.2 320.6,335.7 319.0,345.5 317.4,355.3 315.7,365.0 314.1,378.1 313.4,391.1 312.5,404.2 312.5,414.0 310.8,420.5 309.2,427.0 314.1,430.3 323.9,427.0 337.0,423.8 346.7,418.9 356.5,410.7 363.0,400.9 372.8,392.8 383.0,386.1 396.0,381.2 409.1,376.3 418.9,371.4 423.7,364.9 428.6,363.3 435.1,361.7 440.0,355.1 446.5,348.6 453.1,338.9 456.3,334.0 461.2,329.1 466.1,321.0 468.3,314.0" fill="none" stroke="#8fb0a8" stroke-width="2.2" opacity="0.55"/>
<polygon points="291.0,293.0 295.0,295.0 297.0,300.0 299.0,304.5 303.0,305.0 306.0,303.0 310.8,304.7 317.4,309.6 327.2,312.8 333.7,317.7 335.3,322.6 327.2,325.9 322.3,329.2 320.6,335.7 319.0,345.5 317.4,355.3 315.7,365.0 314.1,378.1 313.4,391.1 312.5,404.2 312.5,414.0 310.8,420.5 309.2,427.0 314.1,430.3 323.9,427.0 337.0,423.8 346.7,418.9 356.5,410.7 363.0,400.9 372.8,392.8 383.0,386.1 396.0,381.2 409.1,376.3 418.9,371.4 423.7,364.9 428.6,363.3 435.1,361.7 440.0,355.1 446.5,348.6 453.1,338.9 456.3,334.0 461.2,329.1 466.1,321.0 468.3,314.0 468.3,432.4 291.0,432.4" fill="#4c68a6"/>
<polyline points="291.0,293.0 295.0,295.0 297.0,300.0 299.0,304.5 303.0,305.0 306.0,303.0 310.8,304.7 317.4,309.6 327.2,312.8 333.7,317.7 335.3,322.6 327.2,325.9 322.3,329.2 320.6,335.7 319.0,345.5 317.4,355.3 315.7,365.0 314.1,378.1 313.4,391.1 312.5,404.2 312.5,414.0 310.8,420.5 309.2,427.0 314.1,430.3 323.9,427.0 337.0,423.8 346.7,418.9 356.5,410.7 363.0,400.9 372.8,392.8 383.0,386.1 396.0,381.2 409.1,376.3 418.9,371.4 423.7,364.9 428.6,363.3 435.1,361.7 440.0,355.1 446.5,348.6 453.1,338.9 456.3,334.0 461.2,329.1 466.1,321.0 468.3,314.0" fill="none" stroke="#6a8cb8" stroke-width="1.2" opacity="0.5" transform="translate(-0.8,0.6)"/>
<ellipse cx="311.8" cy="356" rx="2.6" ry="4.5" fill="#f2f2f2"/>
<ellipse cx="433" cy="360.5" rx="3.6" ry="3.2" fill="#e8eef0"/>
<ellipse cx="430" cy="362" rx="2" ry="2.5" fill="#2a4a8a"/>
<ellipse cx="459.5" cy="334" rx="2.4" ry="2.2" fill="#dde6ea"/>
<ellipse cx="300" cy="334" rx="1.8" ry="1.3" fill="#2d4a6a"/>
<ellipse cx="306" cy="320" rx="1.4" ry="1.1" fill="#2d4a6a"/>
<ellipse cx="294.5" cy="402" rx="1" ry="1" fill="#2d4a6a"/>
<ellipse cx="452" cy="424" rx="4" ry="2.5" fill="#1e2e5e" opacity="0.8"/>
<ellipse cx="459" cy="426" rx="2" ry="1.5" fill="#1e2e5e" opacity="0.8"/>
</g>
<rect x="291" y="228.7" width="177.3" height="203.7" fill="none" stroke="#223322" stroke-width="0.8"/>
<polygon points="399.5,396.8 410,391.8 409,395 428.5,395 428,391.8 438.4,396.8 428,401.8 428.5,398.6 409,398.6 410,401.8" fill="#f8f22a"/>
</svg>
<div style="left:398.9px;top:402.9px;font-family:'Liberation Serif',serif;font-size:26px;line-height:1;color:#f8f22a">50km</div>
<div class="bx" style="left:297.7px;top:240.7px;width:36.3px;height:29.6px"></div><div class="lb" style="left:299.8px;top:242.6px">(d)</div>
</body></html>
